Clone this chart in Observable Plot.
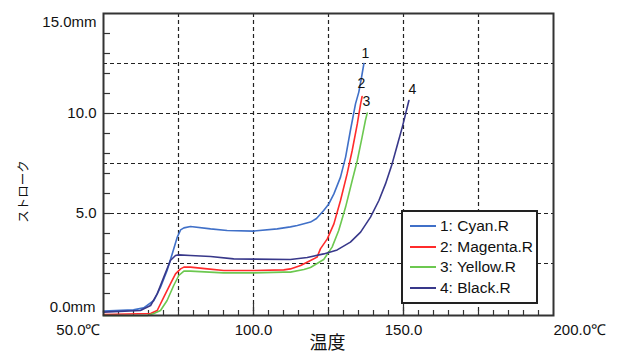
<!DOCTYPE html>
<html><head><meta charset="utf-8">
<script src="https://cdn.jsdelivr.net/npm/d3@7"></script>
<script src="https://cdn.jsdelivr.net/npm/@observablehq/plot@0.6"></script>
<style>
body{margin:0;background:#fff;}
#wrap{position:relative;width:621px;height:356px;overflow:hidden;background:#fff;}
#legend{position:absolute;left:401px;top:210px;width:133px;height:86px;border:2px solid #222;background:#fff;font-family:"Liberation Sans",Arial,sans-serif;font-size:15.5px;color:#111;padding-top:4px;box-sizing:content-box;}
#legend .row{height:20.5px;line-height:20.5px;display:flex;align-items:center;white-space:nowrap;}
#legend .sw{display:inline-block;width:26px;height:2px;margin-left:7px;margin-right:4px;}
</style>
</head><body>
<div id="wrap"></div>
<script>
// ---- data ----
const seriesNames = ["1: Cyan.R", "2: Magenta.R", "3: Yellow.R", "4: Black.R"];
const seriesIds = ["1", "2", "3", "4"];
const seriesColors = ["#4070c8", "#ff2b2b", "#6cc850", "#38388a"];

const cyanT = [50, 60, 63.4, 66.8, 69, 71.2, 72.9, 74.6, 75.7, 76.8, 79, 85.7, 91.2, 100, 107.9, 112.3, 114.6, 119, 121, 123.4, 125.1, 126.8, 129, 130.7, 132.3, 134, 135.1, 136, 136.8];
const cyanS = [0.12, 0.18, 0.28, 0.65, 1.32, 2.15, 2.98, 3.82, 4.18, 4.28, 4.35, 4.23, 4.15, 4.12, 4.23, 4.33, 4.4, 4.57, 4.75, 5.15, 5.48, 5.98, 6.82, 7.82, 9.15, 10.48, 11.07, 11.8, 12.5];

const magentaT = [50, 65.7, 67.9, 70.1, 72.3, 74, 75.7, 76.8, 79, 84.6, 90.1, 100, 110.1, 112.3, 115.7, 119, 121.2, 122.3, 124.6, 126.8, 129, 131.2, 132.9, 134.6, 135.7, 136.2];
const magentaS = [-0.05, 0, 0.15, 0.82, 1.48, 1.98, 2.23, 2.32, 2.32, 2.23, 2.15, 2.15, 2.18, 2.23, 2.4, 2.65, 2.82, 3.23, 3.73, 4.48, 5.65, 6.98, 8.15, 9.48, 10.48, 10.85];

const yellowT = [50, 64.6, 66.8, 69, 71.2, 73.4, 75.1, 76.8, 79, 90, 100, 110, 112.3, 116.8, 119, 122.3, 123.4, 126.2, 128.4, 130.7, 132.9, 134.6, 136.2, 137.3, 137.9];
const yellowS = [-0.1, -0.1, 0, 0.15, 0.65, 1.4, 1.9, 2.12, 2.12, 2.03, 2.03, 2.07, 2.07, 2.2, 2.3, 2.6, 2.7, 3.32, 4.15, 5.32, 6.65, 7.65, 8.82, 9.65, 10.02];

const blackT = [50, 62.3, 65.7, 67.9, 70.1, 72.3, 74, 75.1, 79, 85.7, 93.4, 100, 112.3, 117.9, 123.4, 127.9, 132.3, 135.7, 139, 141.8, 144, 146.2, 147.9, 149.6, 150.7, 151.8];
const blackS = [0.07, 0.15, 0.4, 0.98, 1.82, 2.65, 2.9, 2.93, 2.9, 2.85, 2.73, 2.72, 2.7, 2.8, 2.98, 3.18, 3.57, 4.07, 4.82, 5.65, 6.48, 7.48, 8.4, 9.32, 9.98, 10.65];

// curve end labels (data coordinates)
const endLabelT = [137.3, 136.0, 137.6, 153.0];
const endLabelS = [13.0, 11.5, 10.6, 11.2];

// axes
const xTickVals = [50, 100, 150, 200];
const xTickLabels = ["50.0℃", "100.0", "150.0", "200.0℃"];
const yTickVals = [15, 10, 5, 0];
const yTickLabels = ["15.0mm", "10.0", "5.0", "0.0mm"];
const xGrid = [75, 100, 125, 150, 175];
const yGrid = [2.5, 5, 7.5, 10, 12.5];
const xMinor = d3.range(55, 200, 5);
const xMajor = [100, 150];
const yMinor = d3.range(1, 15, 1);
const xTitle = "温度";
const yTitle = "ストローク";

// ---- build ----
const allT = [cyanT, magentaT, yellowT, blackT];
const allS = [cyanS, magentaS, yellowS, blackS];
const rows = [];
allT.forEach((T, k) => T.forEach((t, i) => rows.push({series: seriesNames[k], t, s: allS[k][i]})));
const endLabels = seriesIds.map((id, i) => ({id, t: endLabelT[i], s: endLabelS[i]}));
const tickFont = "'Liberation Sans',Arial,sans-serif";
const cjk = "'Noto Sans CJK JP',sans-serif";
const lab = {fontSize: 15, fontFamily: tickFont, fill: "#111"};

const plot = Plot.plot({
  width: 621, height: 356,
  marginLeft: 103, marginRight: 68, marginTop: 13, marginBottom: 41,
  x: {domain: [50, 200], axis: null},
  y: {domain: [-0.1, 15], axis: null},
  color: {domain: seriesNames, range: seriesColors},
  style: {fontFamily: tickFont, background: "transparent", color: "#111"},
  marks: [
    Plot.ruleY(yGrid, {stroke: "#222", strokeWidth: 1.2, strokeDasharray: "4,3"}),
    Plot.ruleX(xGrid, {stroke: "#222", strokeWidth: 1.2, strokeDasharray: "4,3"}),
    Plot.axisY(yMinor, {anchor: "left", tickSize: -7, tickFormat: () => "", label: null, stroke: "#333", strokeWidth: 1.2}),
    Plot.axisX(xMinor, {anchor: "bottom", tickSize: -5, tickFormat: () => "", label: null, stroke: "#333", strokeWidth: 1.2}),
    Plot.axisX(xMajor, {anchor: "bottom", tickSize: -12, tickFormat: () => "", label: null, stroke: "#333", strokeWidth: 1.2}),
    Plot.line(rows, {x: "t", y: "s", z: "series", stroke: "series", strokeWidth: 1.6}),
    Plot.frame({stroke: "#333", strokeWidth: 2}),
    Plot.text(endLabels, {x: "t", y: "s", text: "id", fontSize: 14, fill: "#111"}),
    // y tick labels
    Plot.text(yTickVals.slice(1, 3), {y: d => d, frameAnchor: "left", dx: -7, textAnchor: "end", text: (d, i) => yTickLabels[i + 1], ...lab}),
    Plot.text(yTickVals.slice(0, 1), {y: d => d, frameAnchor: "left", dx: -7, dy: 9, textAnchor: "end", text: (d, i) => yTickLabels[i], ...lab}),
    Plot.text(yTickVals.slice(3), {y: d => d, frameAnchor: "left", dx: -8, dy: -6, textAnchor: "end", text: (d, i) => yTickLabels[i + 3], ...lab}),
    // x tick labels
    Plot.text(xTickVals.slice(0, 1), {x: d => d, frameAnchor: "bottom", dy: 19, dx: -3, textAnchor: "end", text: (d, i) => xTickLabels[i], ...lab}),
    Plot.text(xTickVals.slice(1, 3), {x: d => d, frameAnchor: "bottom", dy: 19, text: (d, i) => xTickLabels[i + 1], ...lab}),
    Plot.text(xTickVals.slice(3), {x: d => d, frameAnchor: "bottom", dy: 19, dx: 0, textAnchor: "start", text: (d, i) => xTickLabels[i + 3], ...lab}),
    // axis titles
    Plot.text([xTitle], {frameAnchor: "bottom", dy: 33, dx: -1, textAnchor: "middle", text: d => d, fontSize: 18, fontFamily: cjk, fill: "#111"}),
    Plot.text([yTitle], {frameAnchor: "left", dx: -80, dy: 27, rotate: -90, textAnchor: "middle", text: d => d, fontSize: 12.5, fontFamily: cjk, fill: "#111"})
  ]
});

const wrap = document.getElementById("wrap");
wrap.appendChild(plot);
const legend = document.createElement("div");
legend.id = "legend";
seriesNames.forEach((n, i) => {
  const row = document.createElement("div");
  row.className = "row";
  const sw = document.createElement("span");
  sw.className = "sw";
  sw.style.background = seriesColors[i];
  row.appendChild(sw);
  row.appendChild(document.createTextNode(n));
  legend.appendChild(row);
});
wrap.appendChild(legend);
</script>
</body></html>
